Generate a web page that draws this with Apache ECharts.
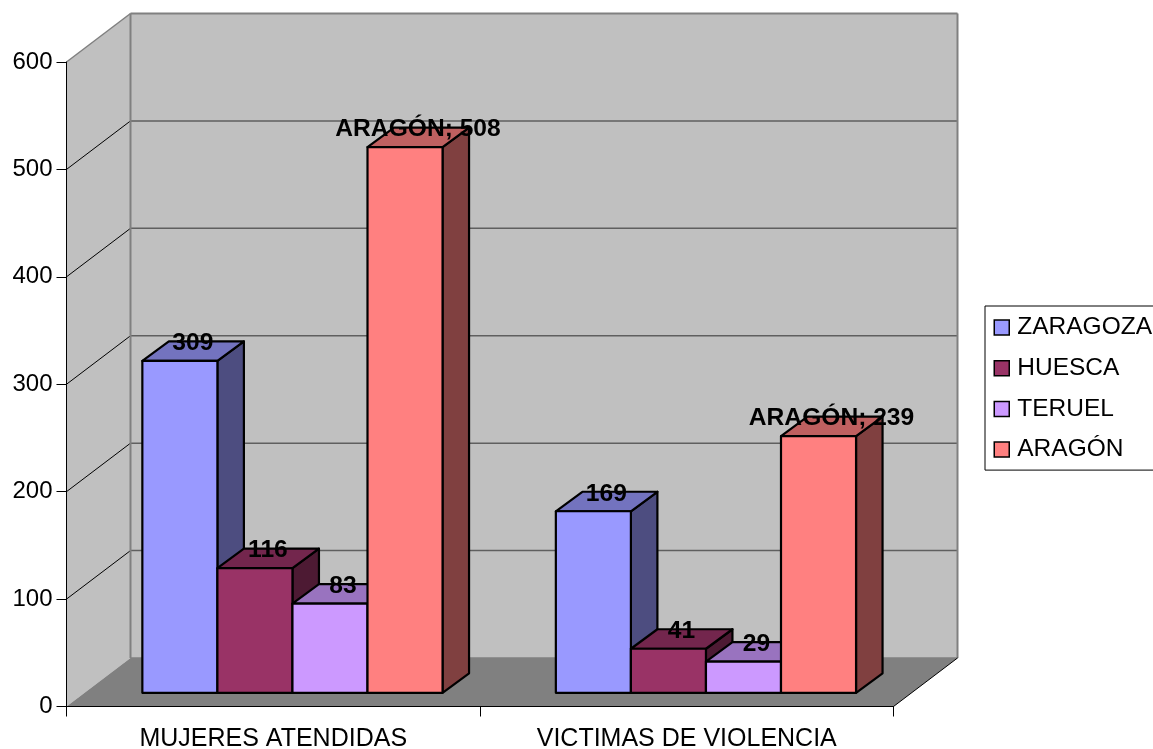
<!DOCTYPE html>
<html>
<head>
<meta charset="utf-8">
<style>html,body{margin:0;padding:0;background:#fff}#c{width:1153px;height:749px}</style>
<script src="https://cdn.jsdelivr.net/npm/echarts@6/dist/echarts.min.js"></script>
</head>
<body>
<div id="c"></div>
<script>
const categories = ['MUJERES ATENDIDAS', 'VICTIMAS DE VIOLENCIA'];
const zaragoza = [309, 169];
const huesca = [116, 41];
const teruel = [83, 29];
const aragon = [508, 239];
const seriesNames = ['ZARAGOZA', 'HUESCA', 'TERUEL', 'ARAGÓN'];
const seriesColors = ['#9999FF', '#993366', '#CC99FF', '#FF8080'];
const topColors = ['#7373BF', '#73264D', '#9973BF', '#BF6060'];
const sideColors = ['#4D4D80', '#4D1A33', '#664D80', '#804040'];
const valueTicks = [100, 200, 300, 400, 500, 600];

const FONT = '"Liberation Sans", Arial, sans-serif';
const DEPTH_X = 64, DEPTH_Y = 48.5;
const BAR_DX = 19.2, BAR_DY = 13.7, BAR_DEPTH_X = 26.5, BAR_DEPTH_Y = 19.5, BAR_W_RATIO = 0.1815;

function poly(points, fill, stroke, lw, z2) {
  return { type: 'polygon', z2: z2 || 0, shape: { points: points },
    style: { fill: fill, stroke: stroke, lineWidth: lw, lineJoin: 'round' } };
}
function seg(a, b, stroke, lw, z2) {
  return { type: 'line', z2: z2 || 0, shape: { x1: a[0], y1: a[1], x2: b[0], y2: b[1] },
    style: { stroke: stroke, lineWidth: lw } };
}

function renderWalls(params, api) {
  const cs = params.coordSys;
  const l = cs.x, r = cs.x + cs.width, t = cs.y, b = cs.y + cs.height;
  const dx = DEPTH_X, dy = DEPTH_Y;
  const children = [
    poly([[l, t], [l + dx, t - dy], [l + dx, b - dy], [l, b]], '#C0C0C0', null, 0),
    poly([[l + dx, t - dy], [r + dx, t - dy], [r + dx, b - dy], [l + dx, b - dy]], '#C0C0C0', null, 0),
    poly([[l, b], [l + dx, b - dy], [r + dx, b - dy], [r, b]], '#808080', null, 0)
  ];
  valueTicks.forEach(function (v) {
    const y = api.coord([0, v])[1];
    if (v < 600) {
      children.push(seg([l, y], [l + dx, y - dy], '#000000', 1, 2));
      children.push(seg([l + dx, y - dy], [r + dx, y - dy], '#5f5f5f', 1.5, 2));
    }
  });
  children.push(seg([l, t], [l + dx, t - dy], '#808080', 1.5, 3));
  children.push(seg([l + dx, t - dy], [r + dx, t - dy], '#808080', 2, 3));
  children.push(seg([l + dx, t - dy], [l + dx, b - dy], '#808080', 2, 3));
  children.push(seg([r + dx, t - dy], [r + dx, b - dy], '#808080', 2, 3));
  children.push(seg([l + dx, b - dy], [r + dx, b - dy], '#808080', 1.5, 3));
  children.push(seg([r, b], [r + dx, b - dy], '#000000', 1, 3));
  return { type: 'group', children: children };
}

function barSeries(idx, values, withName) {
  return {
    type: 'custom',
    name: seriesNames[idx],
    coordinateSystem: 'cartesian2d',
    data: values.map(function (v, i) { return [i, v]; }),
    encode: { x: 0, y: 1 },
    clip: false,
    z: 3 + idx,
    itemStyle: { color: seriesColors[idx] },
    renderItem: function (params, api) {
      const cat = api.value(0), val = api.value(1);
      const band = api.size([1, 0])[0];
      const w = band * BAR_W_RATIO;
      const c = api.coord([cat, val]);
      const y0 = api.coord([cat, 0])[1] - BAR_DY;
      const yT = c[1] - BAR_DY;
      const x0 = c[0] + BAR_DX + (idx - 2) * w;
      const x1 = x0 + w;
      const ddx = BAR_DEPTH_X, ddy = BAR_DEPTH_Y;
      return {
        type: 'group',
        children: [
          poly([[x1, yT], [x1 + ddx, yT - ddy], [x1 + ddx, y0 - ddy], [x1, y0]], sideColors[idx], '#000', 2.2),
          poly([[x0, yT], [x0 + ddx, yT - ddy], [x1 + ddx, yT - ddy], [x1, yT]], topColors[idx], '#000', 2.2),
          poly([[x0, yT], [x1, yT], [x1, y0], [x0, y0]], seriesColors[idx], '#000', 2.2),
          {
            type: 'text', z2: 100,
            style: {
              x: (x0 + x1) / 2 + 13, y: yT - 17.5,
              text: (withName ? seriesNames[idx] + '; ' : '') + val,
              align: 'center', verticalAlign: 'middle',
              fill: '#000', font: 'bold 24.6px ' + FONT
            }
          }
        ]
      };
    }
  };
}

const chart = echarts.init(document.getElementById('c'), null, { renderer: 'canvas' });
chart.setOption({
  animation: false,
  backgroundColor: '#fff',
  grid: { left: 66.5, right: 259.5, top: 62, bottom: 42.5, containLabel: false, outerBoundsMode: 'none' },
  legend: {
    left: 985, top: 306, orient: 'vertical', selectedMode: false,
    backgroundColor: '#fff', borderColor: '#000', borderWidth: 1,
    padding: [9, 8, 8, 8.5], itemWidth: 15, itemHeight: 15, itemGap: 15.7,
    textStyle: { fontFamily: FONT, fontSize: 24.5, color: '#000', padding: [0, 0, 0, 3] },
    data: seriesNames.map(function (n, i) {
      return { name: n, icon: 'rect', itemStyle: { color: seriesColors[i], borderColor: '#000', borderWidth: 1.5 } };
    })
  },
  xAxis: {
    type: 'category', data: categories, z: 10,
    axisLine: { lineStyle: { color: '#000', width: 1 } },
    axisTick: { show: true, length: 10, alignWithLabel: false, lineStyle: { color: '#000' } },
    axisLabel: { fontFamily: FONT, fontSize: 25, color: '#000', margin: 20, interval: 0 },
    splitLine: { show: false }
  },
  yAxis: {
    type: 'value', min: 0, max: 600, interval: 100, z: 10,
    axisLine: { show: true, lineStyle: { color: '#000', width: 1 } },
    axisTick: { show: true, length: 10, lineStyle: { color: '#000' } },
    axisLabel: { fontFamily: FONT, fontSize: 24, color: '#000', margin: 14, padding: [4, 0, 0, 0] },
    splitLine: { show: false }
  },
  series: [
    {
      type: 'custom', name: 'walls', coordinateSystem: 'cartesian2d', z: 1, clip: false,
      data: [[0, 0]], encode: { x: 0, y: 1 }, silent: true, renderItem: renderWalls
    },
    barSeries(0, zaragoza, false),
    barSeries(1, huesca, false),
    barSeries(2, teruel, false),
    barSeries(3, aragon, true)
  ]
});
</script>
</body>
</html>
